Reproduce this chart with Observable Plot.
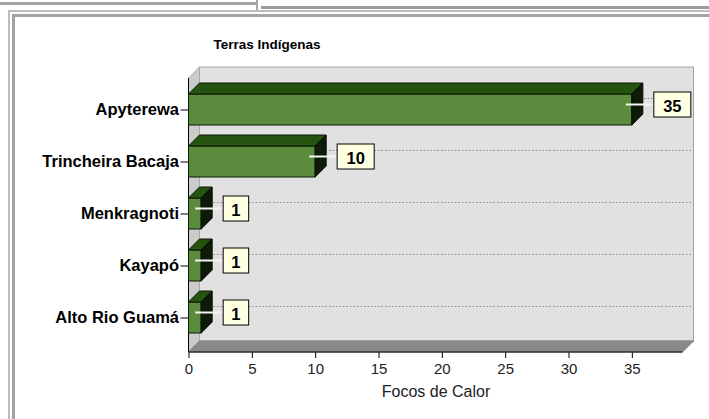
<!DOCTYPE html>
<html><head><meta charset="utf-8">
<script src="https://cdn.jsdelivr.net/npm/d3@7"></script>
<script src="https://cdn.jsdelivr.net/npm/@observablehq/plot@0.6"></script>
<style>
body{margin:0;background:#fff;}
#wrap{position:relative;width:709px;height:419px;overflow:hidden;font-family:"Liberation Sans",Arial,sans-serif;}
.f{position:absolute;}
#chart{position:absolute;left:0;top:0;}
#title{position:absolute;left:0;width:534px;top:37px;line-height:16px;text-align:center;font-weight:bold;font-size:13.5px;color:#000;}
#chart svg g[aria-label^="y-axis"] text{font-weight:bold;font-size:16.5px;}
#chart svg g[aria-label^="x-axis"] text{font-size:15px;fill:#222;}
</style>
</head><body>
<div id="wrap">
  <div class="f" style="left:0;top:2px;width:257px;height:3px;background:#a6a6a6"></div>
  <div class="f" style="left:256px;top:0;width:2px;height:10px;background:#a6a6a6"></div>
  <div class="f" style="left:261px;top:6px;width:448px;height:3px;background:#9c9c9c"></div>
  <div class="f" style="left:8px;top:10px;width:800px;height:500px;border-left:2px solid #bdbdbd;border-top:2px solid #bdbdbd"></div>
  <div class="f" style="left:12px;top:14px;width:800px;height:500px;border-left:3px solid #a3a3a3;border-top:3px solid #a3a3a3"></div>
  <div id="chart"></div>
  <div id="title"></div>
</div>
<script>
const categories = ["Apyterewa", "Trincheira Bacaja", "Menkragnoti", "Kayapó", "Alto Rio Guamá"];
const values = [35, 10, 1, 1, 1];
const xTicks = [0, 5, 10, 15, 20, 25, 30, 35];
const xDomain = [0, 39];
const titleText = "Terras Indígenas";
const xLabel = "Focos de Calor";

const data = categories.map((c, i) => ({cat: c, value: values[i]}));
document.getElementById("title").textContent = titleText;

const DEPTH = 11;

function poly(g, pts, fill, stroke, sw) {
  g.append("path")
    .attr("d", "M" + pts.map(p => p.join(",")).join("L") + "Z")
    .attr("fill", fill)
    .attr("stroke", stroke || "none")
    .attr("stroke-width", sw || 1)
    .attr("stroke-linejoin", "round");
}

// 3D box background: back wall, left wall, floor, gridlines, axis lines
function walls(index, scales, channels, dims) {
  const {x, y} = scales;
  const g = d3.create("svg:g");
  const x0 = dims.marginLeft, x1 = dims.width - dims.marginRight;
  const yT = dims.marginTop, yB = dims.height - dims.marginBottom;
  const D = DEPTH;
  g.append("rect").attr("x", x0 + D).attr("y", yT - D).attr("width", x1 - x0).attr("height", yB - yT)
    .attr("fill", "#e1e1e1").attr("stroke", "#a2a2a2");
  poly(g, [[x0, yT], [x0 + D, yT - D], [x0 + D, yB - D], [x0, yB]], "#cbcbcb", "#a8a8a8");
  poly(g, [[x0, yB], [x0 + D, yB - D], [x1 + D, yB - D], [x1, yB]], "#8a8a8a", "#808080");
  const bw = y.bandwidth ? y.bandwidth() : 0;
  for (const c of categories) {
    const cy = y(c) + bw / 2 - D;
    g.append("line").attr("x1", x0 + D).attr("x2", x1 + D).attr("y1", cy).attr("y2", cy)
      .attr("stroke", "#8a8a8a").attr("stroke-dasharray", "1.5,2");
  }
  g.append("line").attr("x1", x0).attr("x2", x0).attr("y1", yT).attr("y2", yB).attr("stroke", "#000");
  g.append("line").attr("x1", x0).attr("x2", x1).attr("y1", yB).attr("y2", yB).attr("stroke", "#000");
  return g.node();
}

// top and side faces of each bar, plus value labels
function barDepth(index, scales, channels, dims) {
  const {x, y} = scales;
  const g = d3.create("svg:g");
  const D = DEPTH;
  const bw = y.bandwidth ? y.bandwidth() : 30;
  data.forEach(d => {
    const xa = x(0), xb = x(d.value), yt = y(d.cat), ybm = yt + bw;
    poly(g, [[xa, yt], [xa + D, yt - D], [xb + D, yt - D], [xb, yt]], "#24520f", "#0b1605");
    poly(g, [[xb, yt], [xb + D, yt - D], [xb + D, ybm - D], [xb, ybm]], "#0e1b08", "#050a02");
  });
  data.forEach(d => {
    const xb = x(d.value), cy = y(d.cat) + bw / 2 - 5;
    const label = String(d.value);
    const w = 14 + 11.5 * label.length, h = 25;
    const bx = xb + 2 * D;
    g.append("line").attr("x1", xb - 6).attr("x2", bx).attr("y1", cy).attr("y2", cy)
      .attr("stroke", "#f4f4f4").attr("stroke-width", 2);
    g.append("rect").attr("x", bx).attr("y", cy - h / 2).attr("width", w).attr("height", h)
      .attr("fill", "#ffffe1").attr("stroke", "#000").attr("stroke-width", 1);
    g.append("text").attr("x", bx + w / 2).attr("y", cy + 1).attr("text-anchor", "middle")
      .attr("dominant-baseline", "central").attr("font-weight", "bold").attr("font-size", 16.5)
      .attr("fill", "#000").text(label);
  });
  return g.node();
}

const plot = Plot.plot({
  width: 709,
  height: 419,
  marginLeft: 188.5,
  marginRight: 26.5,
  marginTop: 78,
  marginBottom: 67,
  style: {fontFamily: "'Liberation Sans', Arial, sans-serif", fontSize: "15px", color: "#000", background: "transparent", overflow: "visible"},
  x: {domain: xDomain, ticks: xTicks, tickSize: 6, tickPadding: 5, label: null},
  y: {domain: categories, range: [84, 344], paddingInner: 0.4, paddingOuter: 0.2, tickSize: 8, tickPadding: 2, label: null},
  marks: [
    walls,
    Plot.barX(data, {x: "value", y: "cat", fill: "#5b8b3d", stroke: "#0d1a07", strokeWidth: 1}),
    barDepth,
    Plot.text([xLabel], {frameAnchor: "bottom", dy: 44, fontSize: 16, fill: "#222"})
  ]
});
document.getElementById("chart").appendChild(plot);
</script>
</body></html>
